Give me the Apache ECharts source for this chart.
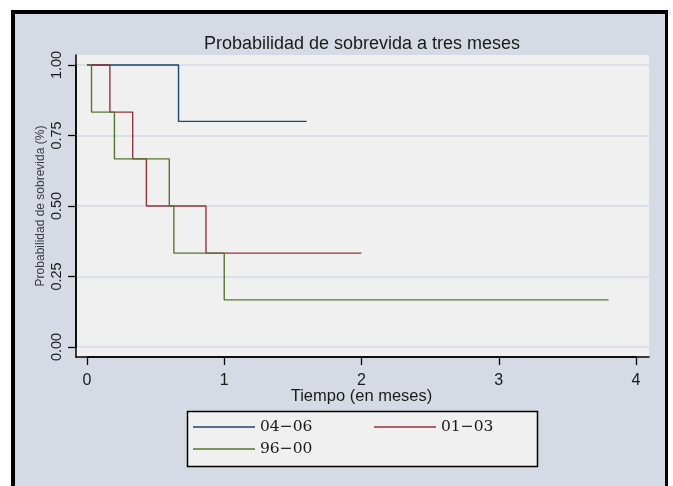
<!DOCTYPE html>
<html>
<head>
<meta charset="utf-8">
<script src="https://cdn.jsdelivr.net/npm/echarts@6/dist/echarts.min.js"></script>
<style>html,body{margin:0;padding:0;background:#fff;}#c{width:673px;height:486px;}</style>
</head>
<body>
<div id="c"></div>
<script>
// Kaplan-Meier step data: [time (months), survival probability]
const seriesNames = ['04\u221206', '01\u221203', '96\u221200'];
const times0406 = [0, 0.667, 1.6];
const surv0406 = [1.0, 0.8, 0.8];
const times0103 = [0, 0.167, 0.333, 0.433, 0.867, 2.0];
const surv0103 = [1.0, 0.833, 0.667, 0.5, 0.333, 0.333];
const times9600 = [0, 0.033, 0.2, 0.6, 0.633, 1.0, 3.8];
const surv9600 = [1.0, 0.833, 0.667, 0.5, 0.333, 0.167, 0.167];
const xTickMin = 0, xTickMax = 4, xTickStep = 1;
const yTickMin = 0, yTickMax = 1, yTickStep = 0.25;
const yTickLabels = ['0.00', '0.25', '0.50', '0.75', '1.00'];

const colors = ['#1a476f', '#90353b', '#55752f'];
const pairs = (t, s) => t.map((v, i) => [v, s[i]]);
const dataSets = [pairs(times0406, surv0406), pairs(times0103, surv0103), pairs(times9600, surv9600)];

const chart = echarts.init(document.getElementById('c'), null, {renderer: 'canvas'});

const legendCommon = {
  orient: 'vertical', top: 411, icon: 'rect',
  itemWidth: 62, itemHeight: 1.5, itemGap: 0, z: 5,
  textStyle: {fontFamily: 'DejaVu Serif', fontSize: 15.5, color: '#1a1a1a', lineHeight: 22}
};
const tickStyle = {show: true, length: 8, inside: false, lineStyle: {color: '#000', width: 1.3}};

chart.setOption({
  animation: false,
  backgroundColor: '#ffffff',
  graphic: [
    {type: 'rect', z: -10, shape: {x: 11, y: 10, width: 657, height: 480}, style: {fill: '#d5dae4'}},
    {type: 'rect', z: -9, shape: {x: 11, y: 10, width: 4, height: 480}, style: {fill: '#000'}},
    {type: 'rect', z: -9, shape: {x: 11, y: 10, width: 657, height: 4}, style: {fill: '#000'}},
    {type: 'rect', z: -9, shape: {x: 665, y: 10, width: 3, height: 480}, style: {fill: '#000'}},
    {type: 'rect', z: 0, shape: {x: 187.5, y: 411.5, width: 350, height: 55}, style: {fill: '#f0f0f0', stroke: '#000', lineWidth: 1.5}}
  ],
  title: {
    text: 'Probabilidad de sobrevida a tres meses',
    left: 357, top: 30, textAlign: 'center',
    textStyle: {fontFamily: 'Liberation Sans', fontSize: 18, fontWeight: 'normal', color: '#1a1a1a'}
  },
  grid: [
    {left: 76, top: 55, right: 24, bottom: 129, show: true, backgroundColor: '#f0f0f0', borderWidth: 0},
    {left: 87, top: 55, right: 37, bottom: 129, show: false},
    {left: 76, top: 65, right: 24, bottom: 139, show: false}
  ],
  xAxis: [
    {
      gridIndex: 0, type: 'value', min: -0.08, max: 4.095,
      axisLine: {show: true, onZero: false, lineStyle: {color: '#000', width: 1.5}},
      axisTick: {show: false}, axisLabel: {show: false}, splitLine: {show: false}
    },
    {
      gridIndex: 1, type: 'value', min: xTickMin, max: xTickMax, interval: xTickStep, position: 'bottom',
      name: 'Tiempo (en meses)', nameLocation: 'middle', nameGap: 31, nameMoveOverlap: false,
      nameTextStyle: {fontFamily: 'Liberation Sans', fontSize: 16.5, color: '#1a1a1a'},
      axisLine: {show: true, onZero: false, lineStyle: {color: '#000', width: 1.5}},
      axisTick: tickStyle,
      axisLabel: {margin: 16, fontFamily: 'Liberation Sans', fontSize: 16, color: '#1a1a1a'},
      splitLine: {show: false}
    },
    {gridIndex: 2, type: 'value', min: 0, max: 1, show: false}
  ],
  yAxis: [
    {
      gridIndex: 0, type: 'value', min: -0.0355, max: 1.0355,
      axisLine: {show: true, onZero: false, lineStyle: {color: '#000', width: 1.5}},
      axisTick: {show: false}, axisLabel: {show: false}, splitLine: {show: false}
    },
    {gridIndex: 1, type: 'value', min: 0, max: 1, show: false},
    {
      gridIndex: 2, type: 'value', min: yTickMin, max: yTickMax, interval: yTickStep, position: 'left',
      name: 'Probabilidad de sobrevida (%)', nameLocation: 'middle', nameGap: 29, nameMoveOverlap: false,
      nameTextStyle: {fontFamily: 'Liberation Sans', fontSize: 12, color: '#3a3a3a'},
      axisLine: {show: true, onZero: false, lineStyle: {color: '#000', width: 1.5}},
      axisTick: tickStyle,
      axisLabel: {
        rotate: 90, margin: 12, fontFamily: 'Liberation Sans', fontSize: 14.5, color: '#1a1a1a',
        formatter: v => yTickLabels[Math.round((v - yTickMin) / yTickStep)]
      },
      splitLine: {show: true, lineStyle: {color: '#d3d9e4', width: 1.5}}
    }
  ],
  legend: [
    Object.assign({data: [seriesNames[0], seriesNames[2]], left: 188}, legendCommon),
    Object.assign({data: [seriesNames[1]], left: 369}, legendCommon)
  ],
  series: seriesNames.map((n, i) => ({
    name: n, type: 'line', step: 'end', data: dataSets[i],
    xAxisIndex: 0, yAxisIndex: 0,
    symbol: 'none', color: colors[i],
    itemStyle: {color: colors[i]},
    lineStyle: {color: colors[i], width: 1.4},
    z: 2 + i
  }))
});
</script>
</body>
</html>
